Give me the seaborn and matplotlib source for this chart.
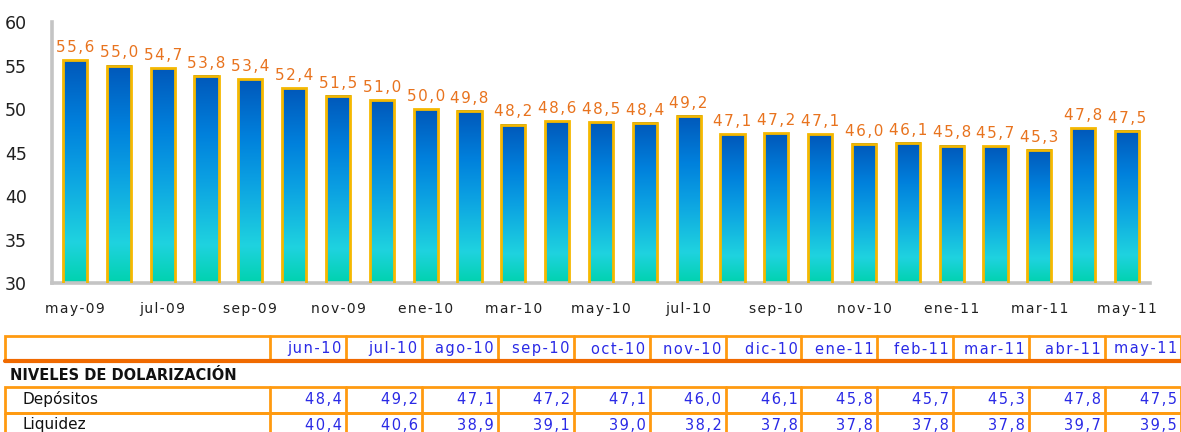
import numpy as np
import pandas as pd
import matplotlib
matplotlib.use("Agg")
import matplotlib.pyplot as plt
from matplotlib.colors import LinearSegmentedColormap
from matplotlib.patches import Rectangle
import seaborn as sns

# Dolarizacion de depositos, may-09 .. may-11
months = ["may-09", "jun-09", "jul-09", "ago-09", "sep-09", "oct-09", "nov-09",
          "dic-09", "ene-10", "feb-10", "mar-10", "abr-10", "may-10", "jun-10",
          "jul-10", "ago-10", "sep-10", "oct-10", "nov-10", "dic-10", "ene-11",
          "feb-11", "mar-11", "abr-11", "may-11"]
dolarizacion = [55.6, 55.0, 54.7, 53.8, 53.4, 52.4, 51.5, 51.0, 50.0, 49.8,
                48.2, 48.6, 48.5, 48.4, 49.2, 47.1, 47.2, 47.1, 46.0, 46.1,
                45.8, 45.7, 45.3, 47.8, 47.5]

# table below the chart
table_months = ["jun-10", "jul-10", "ago-10", "sep-10", "oct-10", "nov-10",
                "dic-10", "ene-11", "feb-11", "mar-11", "abr-11", "may-11"]
depositos = [48.4, 49.2, 47.1, 47.2, 47.1, 46.0, 46.1, 45.8, 45.7, 45.3, 47.8, 47.5]
liquidez = [40.4, 40.6, 38.9, 39.1, 39.0, 38.2, 37.8, 37.8, 37.8, 37.8, 39.7, 39.5]


def fmt(v):
    return f"{v:.1f}".replace(".", ",")


def spaced(s):
    # loose letter spacing like the original
    return "\u200a".join(s)


sns.set_style("white")
plt.rcParams["font.family"] = ["DejaVu Sans"]

df = pd.DataFrame({"mes": months, "valor": dolarizacion})

fig = plt.figure(figsize=(11.81, 4.32), dpi=100)
W, H = 1181, 432
ax = fig.add_axes([52 / W, (H - 283) / H, (1150 - 52) / W, (283 - 22) / H])

sns.barplot(data=df, x="mes", y="valor", ax=ax, width=0.55, color="#0077d0")

cmap = LinearSegmentedColormap.from_list(
    "grad", [(0.0, "#00d2ae"), (0.18, "#1fd3df"), (0.5, "#0ba0e2"),
             (0.72, "#0080dc"), (1.0, "#0058ba")])
grad = np.linspace(0, 1, 256).reshape(-1, 1)
ymin = 30
for p in ax.patches:
    x0, w, top = p.get_x(), p.get_width(), p.get_height()
    ax.imshow(grad, extent=[x0, x0 + w, ymin, top], origin="lower",
              aspect="auto", cmap=cmap, zorder=2)
    p.set_facecolor("none")
    p.set_edgecolor("#f5b800")
    p.set_linewidth(2.0)
    p.set_zorder(3)

for i, v in enumerate(dolarizacion):
    ax.text(i, v + 0.6, spaced(fmt(v)), ha="center", va="bottom",
            color="#e8731e", fontsize=11, zorder=4)

ax.set_xlim(-0.525, len(months) - 1 + 0.525)
ax.set_ylim(30, 60)
ax.set_yticks([30, 35, 40, 45, 50, 55, 60])
ax.set_xticks(range(0, len(months), 2))
ax.set_xticklabels([spaced(m) for m in months[::2]])
ax.set_xlabel("")
ax.set_ylabel("")
ax.tick_params(axis="y", length=0, pad=18, labelsize=12.5, labelcolor="#202020")
ax.tick_params(axis="x", length=0, pad=14, labelsize=10, labelcolor="#202020")
for s in ["top", "right"]:
    ax.spines[s].set_visible(False)
for s in ["left", "bottom"]:
    ax.spines[s].set_color("#c4c4c4")
    ax.spines[s].set_linewidth(2.6)

# table drawn in pixel coordinates
tax = fig.add_axes([0, 0, 1, 1])
tax.set_xlim(0, W)
tax.set_ylim(H, 0)
tax.axis("off")

orange = "#ff9a10"
col0 = 270
colw = (W - col0) / len(table_months)
blue = "#2a2ae6"

# header row
tax.add_patch(Rectangle((5, 336), W - 5, 25, fill=False, ec=orange, lw=2))
for j, m in enumerate(table_months):
    x = col0 + j * colw
    tax.plot([x, x], [336, 361], color=orange, lw=2)
    tax.text(x + colw - 4, 349, spaced(m), ha="right", va="center", color=blue,
             fontsize=10.5)
tax.plot([5, W], [361, 361], color="#f06a00", lw=3)

tax.text(10, 375, "NIVELES DE DOLARIZACIÓN", ha="left", va="center",
         fontsize=10.5, fontweight="bold", color="#111111")

rows = [("Depósitos", depositos, 387), ("Liquidez", liquidez, 413)]
for name, vals, y0 in rows:
    tax.add_patch(Rectangle((5, y0), W - 5, 26, fill=False, ec=orange, lw=2))
    tax.text(22, y0 + 12, name, ha="left", va="center", fontsize=11,
             color="#111111")
    for j, v in enumerate(vals):
        x = col0 + j * colw
        tax.plot([x, x], [y0, y0 + 26], color=orange, lw=2)
        tax.text(x + colw - 4, y0 + 12, spaced(fmt(v)), ha="right", va="center",
                 color=blue, fontsize=10.5)

fig.savefig("out.png", dpi=100)
